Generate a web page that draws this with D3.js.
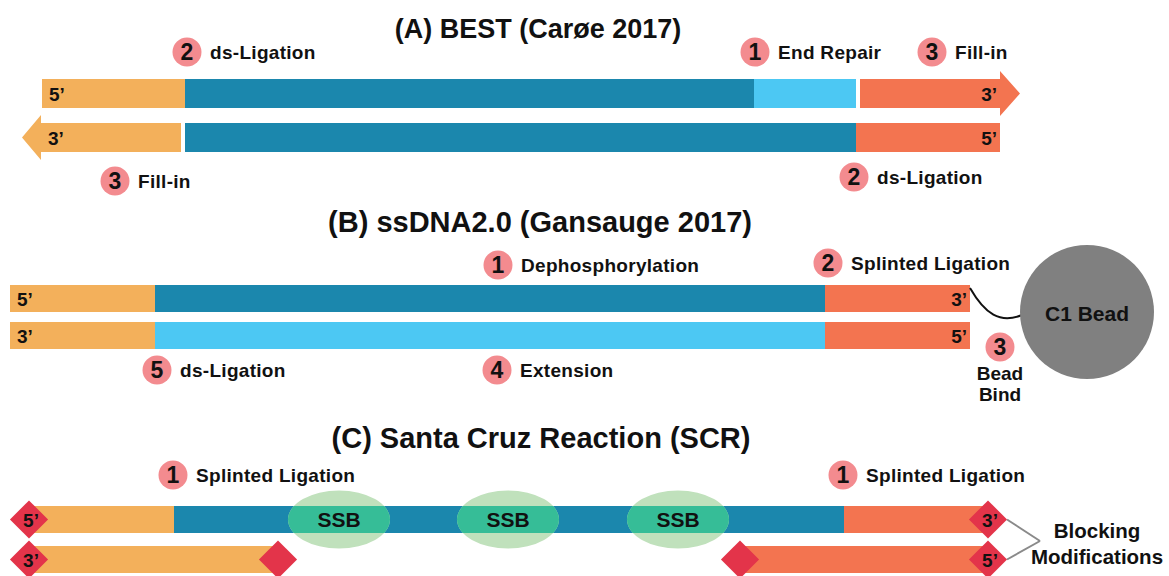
<!DOCTYPE html>
<html>
<head>
<meta charset="utf-8">
<script src="https://cdn.jsdelivr.net/npm/d3@7"></script>
<style>
    body { margin: 0; background: #fff; }
    text { font-family: "Liberation Sans", Arial, sans-serif; font-weight: bold; fill: #111; }
</style>
</head>
<body>
<div id="chart"></div>
<script>
    // panel titles
    var titles = ['(A) BEST (Carøe 2017)', '(B) ssDNA2.0 (Gansauge 2017)', '(C) Santa Cruz Reaction (SCR)'];

    // strand pieces, positions along the molecule (diagram units)
    var segmentsA = [
        {row: 0, from: 42, to: 185, kind: 'adapter5'},
        {row: 0, from: 185, to: 754, kind: 'insert'},
        {row: 0, from: 754, to: 856, kind: 'synth'},
        {row: 0, from: 860, to: 1000, kind: 'adapter3', arrow: 'right'},
        {row: 1, from: 41, to: 181, kind: 'adapter5', arrow: 'left'},
        {row: 1, from: 185, to: 856, kind: 'insert'},
        {row: 1, from: 856, to: 1000, kind: 'adapter3'}
    ];
    var segmentsB = [
        {row: 0, from: 10, to: 155, kind: 'adapter5'},
        {row: 0, from: 155, to: 825, kind: 'insert'},
        {row: 0, from: 825, to: 970, kind: 'adapter3'},
        {row: 1, from: 10, to: 155, kind: 'adapter5'},
        {row: 1, from: 155, to: 825, kind: 'synth'},
        {row: 1, from: 825, to: 970, kind: 'adapter3'}
    ];
    var segmentsC = [
        {row: 0, from: 30, to: 174, kind: 'adapter5'},
        {row: 0, from: 174, to: 844, kind: 'insert'},
        {row: 0, from: 844, to: 988, kind: 'adapter3'},
        {row: 1, from: 30, to: 278, kind: 'adapter5'},
        {row: 1, from: 740, to: 988, kind: 'adapter3'}
    ];

    // end labels: [row, at, text, side]
    var endsA = [[0, 42, '5\u2019', 'start'], [1, 41, '3\u2019', 'start'], [0, 1000, '3\u2019', 'end'], [1, 1000, '5\u2019', 'end']];
    var endsB = [[0, 10, '5\u2019', 'start'], [1, 10, '3\u2019', 'start'], [0, 970, '3\u2019', 'end'], [1, 970, '5\u2019', 'end']];

    // blocking groups in panel C: [row, at, text]
    var blocksC = [[0, 29, '5\u2019'], [0, 988, '3\u2019'], [1, 29, '3\u2019'], [1, 278, ''], [1, 740, ''], [1, 988, '5\u2019']];

    // numbered steps: [step, x, y, label]
    var stepsA = [[2, 187, 52, 'ds-Ligation'], [1, 755, 52, 'End Repair'], [3, 932, 52, 'Fill-in'],
                  [3, 115, 181, 'Fill-in'], [2, 854, 177, 'ds-Ligation']];
    var stepsB = [[1, 498, 265, 'Dephosphorylation'], [2, 828, 263, 'Splinted Ligation'],
                  [5, 157, 370, 'ds-Ligation'], [4, 497, 370, 'Extension']];
    var stepsC = [[1, 173, 475, 'Splinted Ligation'], [1, 843, 475, 'Splinted Ligation']];

    // single strand binding proteins along panel C
    var ssbC = [339, 508, 678];

    var colors = {
        adapter5: '#f3b05b',
        insert: '#1b87ad',
        synth: '#4cc8f3',
        adapter3: '#f37450',
        step: '#f38b8f',
        block: '#e3344a',
        bead: '#808080',
        ssb: '#c0e1bc',
        ssbOnDna: '#36bd97'
    };

    var width = 1169, height = 576;
    var x = d3.scaleLinear().domain([0, width]).range([0, width]);

    var svg = d3.select('#chart').append('svg')
        .attr('width', width)
        .attr('height', height);

    var panels = [
        {title: titles[0], titleX: 538, titleY: 38, titleSize: 27, rows: d3.scaleOrdinal().domain([0, 1]).range([79, 123]), h: 29, segs: segmentsA, ends: endsA, steps: stepsA},
        {title: titles[1], titleX: 540, titleY: 232, titleSize: 29, rows: d3.scaleOrdinal().domain([0, 1]).range([285, 322]), h: 27, segs: segmentsB, ends: endsB, steps: stepsB},
        {title: titles[2], titleX: 541, titleY: 448, titleSize: 29, rows: d3.scaleOrdinal().domain([0, 1]).range([506, 546]), h: 27, segs: segmentsC, ends: [], steps: stepsC}
    ];

    function segPath(d, y, h) {
        var x0 = x(d.from), x1 = x(d.to), head = 8, tip = 20;
        if (d.arrow === 'right') {
            return 'M' + x0 + ',' + y + 'H' + x1 + 'V' + (y - head) + 'L' + (x1 + tip) + ',' + (y + h / 2) +
                'L' + x1 + ',' + (y + h + head) + 'V' + (y + h) + 'H' + x0 + 'Z';
        }
        if (d.arrow === 'left') {
            return 'M' + x1 + ',' + y + 'H' + x0 + 'V' + (y - head) + 'L' + (x0 - tip + 1) + ',' + (y + h / 2) +
                'L' + x0 + ',' + (y + h + head) + 'V' + (y + h) + 'H' + x1 + 'Z';
        }
        return 'M' + x0 + ',' + y + 'H' + x1 + 'V' + (y + h) + 'H' + x0 + 'Z';
    }

    panels.forEach(function (p, pi) {
        var g = svg.append('g').attr('class', 'panel-' + pi);

        g.append('text')
            .attr('x', p.titleX)
            .attr('y', p.titleY)
            .attr('text-anchor', 'middle')
            .style('font-size', p.titleSize + 'px')
            .text(p.title);

        g.selectAll('path.seg').data(p.segs).enter().append('path')
            .attr('class', 'seg')
            .attr('d', function (d) { return segPath(d, p.rows(d.row), p.h); })
            .attr('fill', function (d) { return colors[d.kind]; });

        g.selectAll('text.end').data(p.ends).enter().append('text')
            .attr('class', 'end')
            .attr('x', function (d) { return d[3] === 'start' ? x(d[1]) + 7 : x(d[1]) - 3; })
            .attr('y', function (d) { return p.rows(d[0]) + p.h / 2 + 7; })
            .attr('text-anchor', function (d) { return d[3]; })
            .style('font-size', '19px')
            .text(function (d) { return d[2]; });

        var st = g.selectAll('g.step').data(p.steps).enter().append('g')
            .attr('class', 'step')
            .attr('transform', function (d) { return 'translate(' + x(d[1]) + ',' + d[2] + ')'; });
        st.append('circle')
            .attr('r', 14.5)
            .attr('fill', colors.step);
        st.append('text')
            .attr('y', 8)
            .attr('text-anchor', 'middle')
            .style('font-size', '23px')
            .text(function (d) { return d[0]; });
        st.append('text')
            .attr('x', 23)
            .attr('y', 6.5)
            .style('font-size', '19px')
            .style('letter-spacing', '0.3px')
            .text(function (d) { return d[3]; });
    });

    // panel B: bead and tether
    var gB = svg.select('.panel-1');
    gB.append('path')
        .attr('d', 'M' + x(970) + ',288 C' + x(985) + ',314 ' + x(1000) + ',324 ' + x(1022) + ',315')
        .attr('fill', 'none')
        .attr('stroke', '#111')
        .attr('stroke-width', 2);
    gB.append('circle')
        .attr('cx', x(1087)).attr('cy', 312).attr('r', 67)
        .attr('fill', colors.bead);
    gB.append('text')
        .attr('x', x(1087)).attr('y', 321)
        .attr('text-anchor', 'middle')
        .style('font-size', '21px')
        .text('C1 Bead');
    var bind = gB.append('g').attr('transform', 'translate(' + x(1000) + ',347)');
    bind.append('circle').attr('r', 14.5).attr('fill', colors.step);
    bind.append('text').attr('y', 8).attr('text-anchor', 'middle').style('font-size', '23px').text('3');
    bind.append('text').attr('y', 33).attr('text-anchor', 'middle').style('font-size', '19px').text('Bead');
    bind.append('text').attr('y', 54).attr('text-anchor', 'middle').style('font-size', '19px').text('Bind');

    // panel C: SSB, blocking groups
    var pC = panels[2];
    var gC = svg.select('.panel-2');
    var topY = pC.rows(0), cy = topY + pC.h / 2;

    gC.append('clipPath').attr('id', 'dna-top')
        .append('rect')
        .attr('x', 0).attr('y', topY).attr('width', width).attr('height', pC.h);

    gC.selectAll('ellipse.ssb').data(ssbC).enter().append('ellipse')
        .attr('class', 'ssb')
        .attr('cx', function (d) { return x(d); }).attr('cy', cy)
        .attr('rx', 51).attr('ry', 29)
        .attr('fill', colors.ssb);
    gC.selectAll('ellipse.ssb-on').data(ssbC).enter().append('ellipse')
        .attr('class', 'ssb-on')
        .attr('clip-path', 'url(#dna-top)')
        .attr('cx', function (d) { return x(d); }).attr('cy', cy)
        .attr('rx', 51).attr('ry', 29)
        .attr('fill', colors.ssbOnDna);
    gC.selectAll('text.ssb').data(ssbC).enter().append('text')
        .attr('class', 'ssb')
        .attr('x', function (d) { return x(d); }).attr('y', cy + 7.5)
        .attr('text-anchor', 'middle')
        .style('font-size', '21px')
        .text('SSB');

    // connector lines to the note
    gC.selectAll('line.note').data([0, 1]).enter().append('line')
        .attr('class', 'note')
        .attr('x1', x(1007)).attr('y1', function (d) { return pC.rows(d) + pC.h / 2; })
        .attr('x2', x(1040)).attr('y2', 541)
        .attr('stroke', '#8a8a8a')
        .attr('stroke-width', 2);

    var bl = gC.selectAll('g.block').data(blocksC).enter().append('g')
        .attr('class', 'block')
        .attr('transform', function (d) {
            return 'translate(' + x(d[1]) + ',' + (pC.rows(d[0]) + pC.h / 2) + ')';
        });
    bl.append('rect')
        .attr('x', -13.5).attr('y', -13.5).attr('width', 27).attr('height', 27)
        .attr('transform', 'rotate(45)')
        .attr('fill', colors.block);
    bl.append('text')
        .attr('x', 2).attr('y', 7)
        .attr('text-anchor', 'middle')
        .style('font-size', '19px')
        .text(function (d) { return d[2]; });

    gC.append('text')
        .attr('x', x(1097)).attr('y', 538)
        .attr('text-anchor', 'middle')
        .style('font-size', '20.5px')
        .text('Blocking');
    gC.append('text')
        .attr('x', x(1097)).attr('y', 564)
        .attr('text-anchor', 'middle')
        .style('font-size', '20.5px')
        .text('Modifications');
</script>
</body>
</html>
